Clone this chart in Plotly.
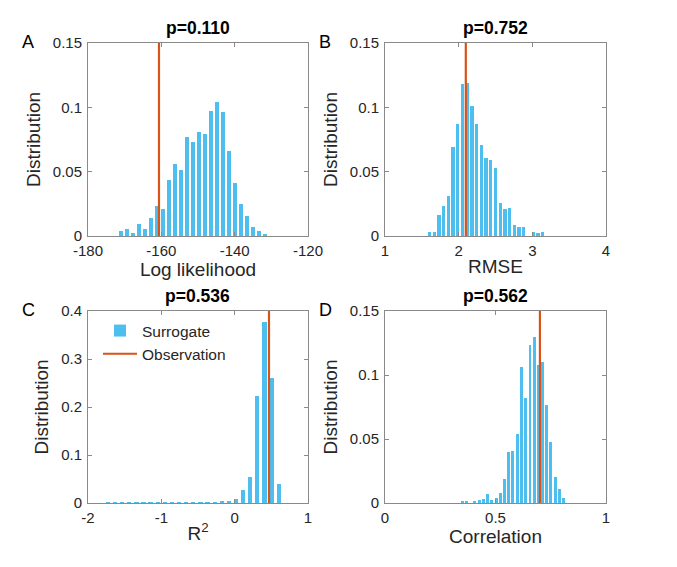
import plotly.graph_objects as go

# ---------------- data ----------------
# Panel A: Log likelihood
loglik_centers = [-171.10, -169.46, -167.81, -166.17, -164.52, -162.88, -161.24, -159.59,
                  -157.95, -156.30, -154.66, -153.02, -151.37, -149.73, -148.08, -146.44,
                  -144.80, -143.15, -141.51, -139.86, -138.22, -136.58, -134.93, -133.29, -131.64]
loglik_probs = [0.0042, 0.0055, 0.0020, 0.0091, 0.0052, 0.0143, 0.0232, 0.0213,
                0.0432, 0.0562, 0.0510, 0.0773, 0.0734, 0.0811, 0.0793, 0.0973,
                0.1040, 0.0960, 0.0660, 0.0410, 0.0250, 0.0159, 0.0073, 0.0039, 0.0010]
loglik_obs = -160.64

# Panel B: RMSE
rmse_centers = [1.604, 1.668, 1.732, 1.796, 1.860, 1.924, 1.988, 2.052, 2.116, 2.180,
                2.244, 2.308, 2.372, 2.436, 2.500, 2.564, 2.628, 2.692, 2.756, 2.820,
                2.884, 2.948, 3.012, 3.076, 3.140]
rmse_probs = [0.0031, 0.0031, 0.0164, 0.0231, 0.0312, 0.0694, 0.0874, 0.1180, 0.1190, 0.1010,
              0.0874, 0.0710, 0.0610, 0.0590, 0.0528, 0.0257, 0.0213, 0.0221, 0.0083, 0.0073,
              0.0073, 0.0000, 0.0031, 0.0020, 0.0031]
rmse_obs = 2.097

# Panel C: R^2
r2_centers = [-1.728, -1.631, -1.534, -1.437, -1.340, -1.243, -1.146, -1.049, -0.952, -0.855,
              -0.758, -0.661, -0.564, -0.467, -0.370, -0.273, -0.176, -0.079, 0.018, 0.115,
              0.212, 0.309, 0.406, 0.503, 0.600]
r2_probs = [0.0008, 0.0008, 0.0006, 0.0008, 0.0006, 0.0008, 0.0006, 0.0008, 0.0006, 0.0008,
            0.0006, 0.0008, 0.0008, 0.0008, 0.0010, 0.0012, 0.0028, 0.0042, 0.0077, 0.0270,
            0.0550, 0.2226, 0.3780, 0.2610, 0.0400]
r2_obs = 0.468

# Panel D: Correlation
corr_centers = [0.350, 0.369, 0.388, 0.407, 0.426, 0.446, 0.465, 0.484, 0.503, 0.522,
                0.541, 0.560, 0.579, 0.598, 0.617, 0.637, 0.656, 0.675, 0.694, 0.713,
                0.732, 0.751, 0.770, 0.789, 0.808]
corr_probs = [0.0010, 0.0010, 0.0000, 0.0008, 0.0020, 0.0028, 0.0067, 0.0020, 0.0039, 0.0080,
              0.0188, 0.0399, 0.0410, 0.0540, 0.1060, 0.0824, 0.1234, 0.1294, 0.1075, 0.1100,
              0.0762, 0.0480, 0.0200, 0.0110, 0.0040]
corr_obs = 0.701

titles = ["p=0.110", "p=0.752", "p=0.536", "p=0.562"]
letters = ["A", "B", "C", "D"]
xlabels = ["Log likelihood", "RMSE", "R<sup>2</sup>", "Correlation"]
ylabel = "Distribution"

xticks_A = [-180, -160, -140, -120]
xticks_B = [1, 2, 3, 4]
xticks_C = [-2, -1, 0, 1]
xticks_D = [0, 0.5, 1]
xtext_A = ["-180", "-160", "-140", "-120"]
xtext_B = ["1", "2", "3", "4"]
xtext_C = ["-2", "-1", "0", "1"]
xtext_D = ["0", "0.5", "1"]
yticks_small = [0, 0.05, 0.1, 0.15]
ytext_small = ["0", "0.05", "0.1", "0.15"]
yticks_C = [0, 0.1, 0.2, 0.3, 0.4]
ytext_C = ["0", "0.1", "0.2", "0.3", "0.4"]

# ---------------- styling ----------------
OFF = 8                      # page body margin
W, H = 677 - 2 * OFF, 567 - 2 * OFF
BAR = "rgb(77,190,238)"
RED = "rgb(217,83,25)"
AX = "#8a8a8a"
TXT = "#262626"
FONT = "Liberation Sans, Arial, Helvetica, sans-serif"

# pixel boxes in page coordinates: (left, right, top, bottom)
boxes = [(88, 308, 43, 236), (385, 606, 43, 236), (88, 308, 311, 503), (385, 606, 311, 503)]

def px(x):
    return (x - OFF) / W

def py(y):
    return 1 - (y - OFF) / H

panels = [
    (loglik_centers, loglik_probs, loglik_obs, 1.644 * 0.64, [-180, -120], xticks_A, xtext_A, [0, 0.15], yticks_small, ytext_small),
    (rmse_centers, rmse_probs, rmse_obs, 0.064 * 0.70, [1, 4], xticks_B, xtext_B, [0, 0.15], yticks_small, ytext_small),
    (r2_centers, r2_probs, r2_obs, 0.097 * 0.60, [-2, 1], xticks_C, xtext_C, [0, 0.4], yticks_C, ytext_C),
    (corr_centers, corr_probs, corr_obs, 0.0191 * 0.70, [0, 1], xticks_D, xtext_D, [0, 0.15], yticks_small, ytext_small),
]

fig = go.Figure()
layout = dict(
    width=W, height=H,
    margin=dict(l=0, r=0, t=0, b=0),
    paper_bgcolor="white", plot_bgcolor="white",
    font=dict(family=FONT, color=TXT),
    showlegend=True,
    bargap=0,
)
annotations = []

for i, (cx, pv, obs, bw, xr, xt, xtt, yr, yt, ytt) in enumerate(panels):
    k = "" if i == 0 else str(i + 1)
    xa, ya = "x" + k, "y" + k
    show = (i == 2)
    fig.add_trace(go.Bar(x=cx, y=pv, width=bw, marker=dict(color=BAR, line=dict(width=0)),
                         xaxis=xa, yaxis=ya, name="Surrogate", showlegend=show))
    fig.add_trace(go.Scatter(x=[obs, obs], y=yr, mode="lines", line=dict(color=RED, width=2.2),
                             xaxis=xa, yaxis=ya, name="Observation", showlegend=show))
    b = boxes[i]
    common = dict(showline=True, linecolor=AX, linewidth=1, mirror="ticks", ticks="inside",
                  ticklen=4, tickcolor=AX, showgrid=False, zeroline=False, automargin=False,
                  tickfont=dict(size=15, color=TXT, family=FONT))
    layout["xaxis" + k] = dict(common, domain=[px(b[0]), px(b[1])], range=xr, tickvals=xt, ticktext=xtt,
                               anchor=ya, ticklabelstandoff=1,
                               title=dict(text=xlabels[i], font=dict(size=19, color=TXT), standoff=1))
    layout["yaxis" + k] = dict(common, domain=[py(b[3]), py(b[2])], range=yr, tickvals=yt, ticktext=ytt,
                               anchor=xa, ticklabelstandoff=2,
                               title=dict(text=ylabel, font=dict(size=19, color=TXT), standoff=7))
    annotations.append(dict(text="<b>" + titles[i] + "</b>", x=px((b[0] + b[1]) / 2), y=py(b[2] - 15),
                            xref="paper", yref="paper", showarrow=False, font=dict(size=17.5, color="black"),
                            xanchor="center", yanchor="middle"))
    annotations.append(dict(text=letters[i], x=px(b[0] - 60), y=py(b[2] - 1),
                            xref="paper", yref="paper", showarrow=False, font=dict(size=18, color="black"),
                            xanchor="center", yanchor="middle"))

layout["annotations"] = annotations
layout["legend"] = dict(x=px(98), y=py(314), xanchor="left", yanchor="top",
                        bgcolor="rgba(0,0,0,0)", font=dict(size=15.5, color=TXT),
                        itemwidth=34, tracegroupgap=0)
fig.update_layout(**layout)
fig.write_html("out.html")
